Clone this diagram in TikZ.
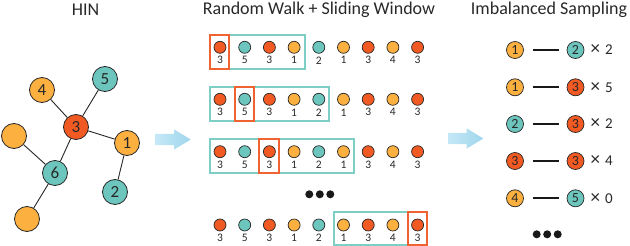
\documentclass[tikz,border=0pt]{standalone}
\usepackage{fontspec}
\setmainfont{Carlito}
\usetikzlibrary{calc}
\definecolor{cred}{RGB}{241,90,34}
\definecolor{corg}{RGB}{251,176,64}
\definecolor{ctea}{RGB}{108,198,189}
\definecolor{cboxt}{RGB}{125,206,197}
\definecolor{cboxo}{RGB}{240,98,50}
\definecolor{ctext}{RGB}{40,40,40}
\definecolor{carrL}{RGB}{196,232,246}
\definecolor{carrR}{RGB}{160,214,236}
\begin{document}
\begin{tikzpicture}[x=1pt,y=-1pt,
  title/.style={text=ctext, font=\fontsize{18}{20}\selectfont, inner sep=0pt},
  hn/.style={circle, draw=black!85, line width=0.8pt, minimum size=25pt, inner sep=0pt, text=ctext, font=\fontsize{17}{17}\selectfont},
  hedge/.style={draw=black!85, line width=0.9pt},
  sn/.style={circle, draw=black!85, line width=0.7pt, minimum size=12pt, inner sep=0pt},
  slab/.style={text=ctext, font=\fontsize{11.5}{11.5}\selectfont, inner sep=0pt},
  pn/.style={circle, draw=black!85, line width=0.7pt, minimum size=17pt, inner sep=0pt, text=ctext, font=\fontsize{14}{14}\selectfont},
  pline/.style={draw=black!90, line width=2pt, shorten <=9pt, shorten >=8pt},
  ptxt/.style={text=ctext, font=\fontsize{15}{15}\selectfont, inner sep=0pt, anchor=west},
  tbox/.style={draw=cboxt, line width=2pt},
  obox/.style={draw=cboxo, line width=2pt},
  dotn/.style={circle, fill=black!90, minimum size=8pt, inner sep=0pt},
  bigarrow/.style={left color=carrL, right color=carrR}
]
\useasboundingbox (0,0) rectangle (630,246);

% titles
\node[title] (t1) at (85.5,9.5) {HIN};
\node[title] (t2) at (319,9.5) {Random Walk + Sliding Window};
\node[title] (t3) at (549,9.5) {Imbalanced Sampling};

% HIN graph
\node[hn, fill=cred] (h3) at (76,127) {3};
\node[hn, fill=corg] (h4) at (42,90) {4};
\node[hn, fill=ctea] (h5) at (105,79) {5};
\node[hn, fill=corg] (h1) at (127,143) {1};
\node[hn, fill=corg] (ha) at (14,136) {};
\node[hn, fill=ctea] (h6) at (55,173) {6};
\node[hn, fill=ctea] (h2) at (115,192) {2};
\node[hn, fill=corg] (hb) at (27,219) {};
\draw[hedge] (h4) -- (h3);
\draw[hedge] (h5) -- (h3);
\draw[hedge] (h3) -- (h1);
\draw[hedge] (h3) -- (h6);
\draw[hedge] (h6) -- (ha);
\draw[hedge] (h6) -- (hb);
\draw[hedge] (h1) -- (h2);

% arrows
\shade[bigarrow] (155.7,134) -- (174,134) -- (174,129.3) -- (190.7,139.5) -- (174,149.7) -- (174,145) -- (155.7,145) -- cycle;
\shade[bigarrow] (448.3,133) -- (466.6,133) -- (466.6,128.3) -- (483.3,138.5) -- (466.6,148.7) -- (466.6,144) -- (448.3,144) -- cycle;

% walk rows
\foreach \r/\yy in {1/47.3, 2/99.3, 3/151.7, 4/225} {
  \foreach \i/\c/\t in {0/cred/3, 1/ctea/5, 2/cred/3, 3/corg/1, 4/ctea/2, 5/corg/1, 6/cred/3, 7/corg/4, 8/cred/3} {
    \node[sn, fill=\c] (r\r c\i) at ({220+24.7*\i},\yy) {};
    \node[slab] (l\r c\i) at ({220+24.7*\i},\yy+13) {\t};
  }
}
% windows
\draw[tbox] (229,35) rectangle (305,69);
\draw[obox] (210,35) rectangle (229,69);
\draw[tbox] (210,87) rectangle (329,121);
\draw[obox] (235,87) rectangle (254,121);
\draw[tbox] (210,139) rectangle (354,173);
\draw[obox] (259,139) rectangle (279,173);
\draw[tbox] (334,212) rectangle (408,245);
\draw[obox] (408,212) rectangle (427,245);

% middle dots
\node[dotn] (md1) at (309.3,194.3) {};
\node[dotn] (md2) at (319.8,194.3) {};
\node[dotn] (md3) at (330.3,194.3) {};

% pairs
\foreach \k/\yy/\ca/\ta/\cb/\tb/\n in {1/50/corg/1/ctea/2/2, 2/87.3/corg/1/cred/3/5, 3/124/ctea/2/cred/3/2, 4/161/cred/3/cred/3/4, 5/198.3/corg/4/ctea/5/0} {
  \node[pn, fill=\ca] (pa\k) at (515,\yy) {\ta};
  \node[pn, fill=\cb] (pb\k) at (575.5,\yy) {\tb};
  \draw[pline] (pa\k) -- (pb\k);
  \node[ptxt] (px\k) at (590.5,\yy) {{\fontsize{19}{19}\selectfont ×}\hspace{5pt}\n};
}
\node[dotn] (rd1) at (536.7,234.3) {};
\node[dotn] (rd2) at (547.2,234.3) {};
\node[dotn] (rd3) at (557.7,234.3) {};
\end{tikzpicture}
\end{document}
